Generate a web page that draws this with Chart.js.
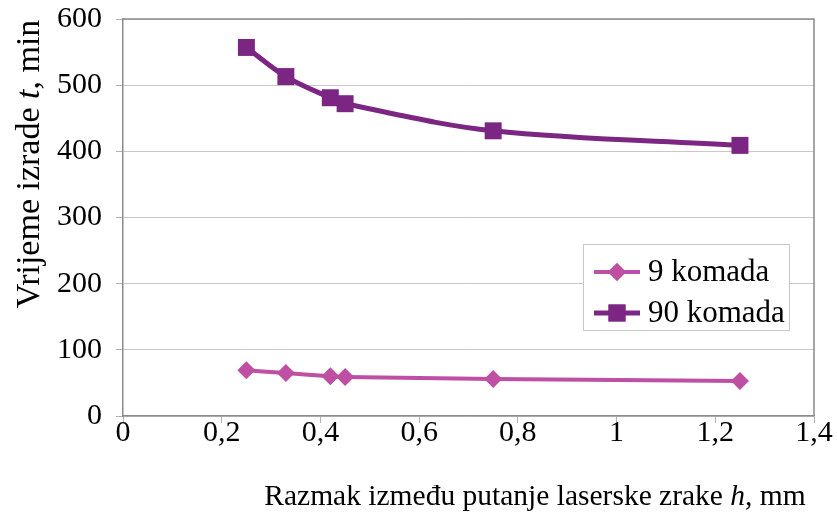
<!DOCTYPE html>
<html>
<head>
<meta charset="utf-8">
<script src="https://cdn.jsdelivr.net/npm/chart.js@4/dist/chart.umd.min.js"></script>
<style>
html,body{margin:0;padding:0;background:#fff;}
#wrap{width:837px;height:516px;position:relative;}
</style>
</head>
<body>
<div id="wrap"><canvas id="c" width="837" height="516"></canvas></div>
<script>
const xValues = [0.25, 0.33, 0.42, 0.45, 0.75, 1.25];
const series9 = [69, 65, 60, 59, 56, 53];
const series90 = [557, 513, 481, 472, 431, 409];
const seriesNames = ['9 komada', '90 komada'];
const xTitleParts = [['Razmak između putanje laserske zrake ', false], ['h', true], [', mm', false]];
const yTitleParts = [['Vrijeme izrade ', false], ['t', true], [', min', false]];

const FONT = '"Liberation Serif", "Times New Roman", serif';
const FS = 30;
const C9 = '#BF4FA2';
const C90 = '#7B2683';

function pts(xs, ys){ return xs.map((x,i)=>({x:x, y:ys[i]})); }

function drawParts(ctx, parts, size){
  let total = 0;
  parts.forEach(p=>{ ctx.font = (p[1]?'italic ':'') + size + 'px ' + FONT; total += ctx.measureText(p[0]).width; });
  let x = -total/2;
  parts.forEach(p=>{ ctx.font = (p[1]?'italic ':'') + size + 'px ' + FONT; ctx.fillText(p[0], x, 0); x += ctx.measureText(p[0]).width; });
}

const decor = {
  id: 'decor',
  afterDatasetsDraw(chart){
    const ctx = chart.ctx, a = chart.chartArea;
    ctx.save();
    ctx.strokeStyle = '#8a8a8a'; ctx.lineWidth = 1.5;
    ctx.beginPath();
    ctx.moveTo(a.left, a.top); ctx.lineTo(a.right, a.top); ctx.lineTo(a.right, a.bottom);
    ctx.stroke();
    const bx = 583, by = 244, bw = 206, bh = 86;
    ctx.fillStyle = '#fff'; ctx.fillRect(bx, by, bw, bh);
    ctx.strokeStyle = '#c8c8c8'; ctx.lineWidth = 1; ctx.strokeRect(bx+0.5, by+0.5, bw, bh);
    const rows = [{y: 272, c: C9, s: 'rectRot', r: 9, w: 4}, {y: 313, c: C90, s: 'rect', r: 12, w: 5}];
    rows.forEach((r, i)=>{
      ctx.strokeStyle = r.c; ctx.lineWidth = r.w;
      ctx.beginPath(); ctx.moveTo(594, r.y); ctx.lineTo(640, r.y); ctx.stroke();
      ctx.fillStyle = r.c;
      Chart.helpers.drawPoint(ctx, {pointStyle: r.s, radius: r.r, borderWidth: 0, rotation: 0}, 617, r.y);
      ctx.fill();
      ctx.fillStyle = '#000'; ctx.font = '31px ' + FONT;
      ctx.textBaseline = 'middle'; ctx.textAlign = 'left';
      ctx.fillText(seriesNames[i], 648, r.y + 1);
    });
    ctx.fillStyle = '#000'; ctx.textBaseline = 'middle'; ctx.textAlign = 'left';
    ctx.save(); ctx.translate(535, 497); drawParts(ctx, xTitleParts, 29.5); ctx.restore();
    ctx.save(); ctx.translate(30, 164); ctx.rotate(-Math.PI/2); drawParts(ctx, yTitleParts, 34); ctx.restore();
    ctx.restore();
  }
};

new Chart(document.getElementById('c'), {
  type: 'line',
  data: {
    datasets: [
      { label: seriesNames[0], data: pts(xValues, series9), borderColor: C9, backgroundColor: C9,
        borderWidth: 4, pointStyle: 'rectRot', pointRadius: 9, pointHoverRadius: 9, pointBorderWidth: 0, tension: 0.35 },
      { label: seriesNames[1], data: pts(xValues, series90), borderColor: C90, backgroundColor: C90,
        borderWidth: 5, pointStyle: 'rect', pointRadius: 12, pointHoverRadius: 12, pointBorderWidth: 0, tension: 0.35 }
    ]
  },
  options: {
    responsive: false, animation: false,
    layout: { padding: { left: 0, right: 23, top: 19, bottom: 0 } },
    plugins: { legend: { display: false }, tooltip: { enabled: false } },
    scales: {
      x: {
        type: 'linear', min: 0, max: 1.4,
        afterFit(s){ s.height = 100; s.paddingLeft = 0; s.paddingRight = 0; },
        ticks: { stepSize: 0.2, color: '#000', font: { family: FONT, size: FS }, padding: -8, maxRotation: 0,
          callback: v => String(Number(v.toFixed(1))).replace('.', ',') },
        grid: { display: true, drawOnChartArea: false, drawTicks: true, tickLength: 7, tickColor: '#b0b0b0' },
        border: { display: true, color: '#8a8a8a', width: 1.5 }
      },
      y: {
        min: 0, max: 600,
        afterFit(s){ s.width = 123; s.paddingTop = 0; s.paddingBottom = 0; },
        ticks: { stepSize: 100, color: '#000', font: { family: FONT, size: FS }, padding: 14 },
        grid: { color: '#c8c8c8', lineWidth: 1, drawTicks: true, tickLength: 7, tickColor: '#b0b0b0' },
        border: { display: true, color: '#8a8a8a', width: 1.5 }
      }
    }
  },
  plugins: [decor]
});
</script>
</body>
</html>
